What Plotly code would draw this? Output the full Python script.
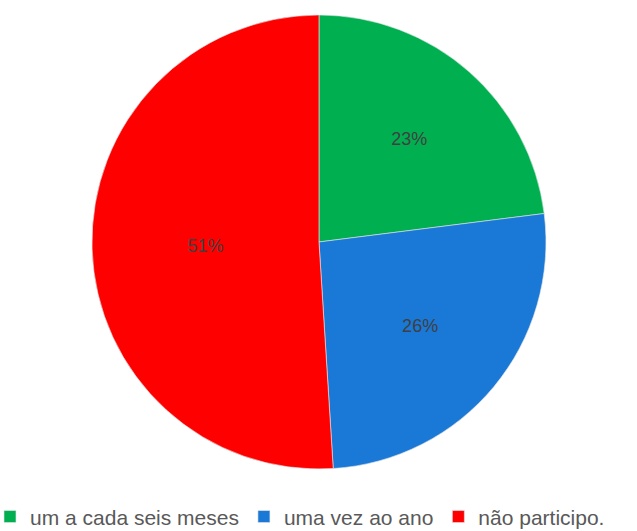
import plotly.graph_objects as go

categories = ["um a cada seis meses", "uma vez ao ano", "não participo."]
values = [23, 26, 51]
colors = ["#00B050", "#1A78D6", "#FF0000"]

fig = go.Figure(go.Pie(
    labels=categories,
    values=values,
    sort=False,
    direction="clockwise",
    rotation=0,
    marker=dict(colors=colors, line=dict(color="#E8E8E8", width=0.6)),
    textinfo="percent",
    texttemplate="%{percent:.0%}",
    textposition="inside",
    insidetextorientation="horizontal",
    textfont=dict(family="Liberation Sans, Arial, sans-serif", size=18, color="#404040"),
    domain=dict(x=[0.1444, 0.8571], y=[0.1168, 0.9718]),
    hoverinfo="label+percent",
))

fig.update_layout(
    width=637, height=531,
    margin=dict(l=0, r=0, t=0, b=0, autoexpand=False),
    paper_bgcolor="white",
    plot_bgcolor="white",
    showlegend=True,
    legend=dict(
        orientation="h",
        x=-0.0157, xanchor="left",
        y=-0.012, yanchor="bottom",
        font=dict(family="Liberation Sans, Arial, sans-serif", size=21, color="#595959"),
        itemwidth=30,
        traceorder="normal",
    ),
)

fig.write_html("out.html", post_script="document.body.style.margin='0';",
               config={"displayModeBar": False})
